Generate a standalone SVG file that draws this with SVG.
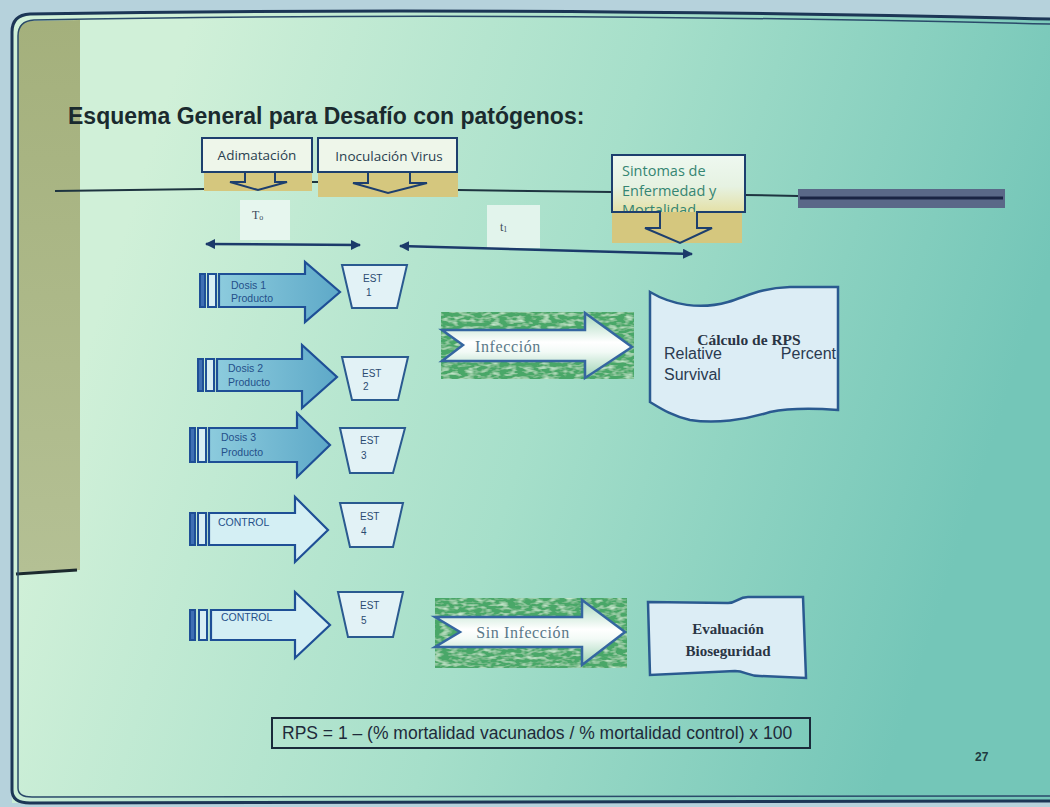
<svg xmlns="http://www.w3.org/2000/svg" width="1050" height="807" viewBox="0 0 1050 807">
<defs>
  <linearGradient id="slideBg" gradientUnits="userSpaceOnUse" x1="150" y1="150" x2="1000" y2="420">
    <stop offset="0" stop-color="#d0f0d8"/>
    <stop offset="0.5" stop-color="#a6dfca"/>
    <stop offset="1" stop-color="#74c6b8"/>
  </linearGradient>
  <linearGradient id="oliveBar" x1="0" y1="0" x2="0" y2="1">
    <stop offset="0" stop-color="#a4b07c"/>
    <stop offset="1" stop-color="#b4c094"/>
  </linearGradient>
  <linearGradient id="doseFill" x1="0" y1="0" x2="1" y2="0">
    <stop offset="0" stop-color="#8ccbdd"/>
    <stop offset="1" stop-color="#5ea9c8"/>
  </linearGradient>
  <linearGradient id="sintFill" x1="0" y1="0" x2="0" y2="1">
    <stop offset="0" stop-color="#eef8f0"/>
    <stop offset="0.55" stop-color="#e6f2e2"/>
    <stop offset="1" stop-color="#e4e0a6"/>
  </linearGradient>
  <linearGradient id="ribbon" x1="0" y1="0" x2="0" y2="1">
    <stop offset="0" stop-color="#a6d8bc"/>
    <stop offset="0.45" stop-color="#ffffff"/>
    <stop offset="0.6" stop-color="#f2faf6"/>
    <stop offset="1" stop-color="#9cd2b2"/>
  </linearGradient>
  <filter id="moss" x="0" y="0" width="1" height="1">
    <feTurbulence type="fractalNoise" baseFrequency="0.12 0.3" numOctaves="2" seed="7" result="noise"/>
    <feColorMatrix in="noise" type="matrix" values="0 0 0 0 0.55  0 0 0 0 0.8  0 0 0 0 0.6  0 0 0 2.4 -1.05" result="dots"/>
    <feComposite in="dots" in2="SourceGraphic" operator="in" result="clipped"/>
    <feMerge><feMergeNode in="SourceGraphic"/><feMergeNode in="clipped"/></feMerge>
  </filter>
  <marker id="ah" viewBox="0 0 10 10" refX="9" refY="5" markerWidth="4" markerHeight="4" orient="auto-start-reverse">
    <path d="M0,0 L10,5 L0,10 z" fill="#1c3a6a"/>
  </marker>
  <style>
    .box { fill: #eef6ea; stroke: #1d3f6e; stroke-width: 2; }
    .outline { fill: none; stroke: #1d3f6e; stroke-width: 2; }
    .olive { fill: #d5c77e; }
    .lbl { font-family: "Open Sans", "Liberation Sans", sans-serif; font-size: 13.5px; fill: #2a4050; }
    .sint { font-family: "Open Sans", "Liberation Sans", sans-serif; font-size: 14.5px; fill: #358572; }
    .tl { stroke: #1e3440; stroke-width: 2; fill: none; }
    .dose { stroke: #1e4f96; stroke-width: 2.2; }
    .bar { fill: #d8eef4; stroke: #1e4f96; stroke-width: 2; }
    .bar.dark { fill: #3f70b4; }
    .dtext { font-family: "Liberation Sans", sans-serif; font-size: 10.5px; fill: #24508a; }
    .est { fill: #e2f2f6; stroke: #2a5a90; stroke-width: 2; }
    .etext { font-family: "Liberation Sans", sans-serif; font-size: 10px; fill: #2a4a70; }
    .moss { fill: #49a767; }
    .rib { fill: url(#ribbon); stroke: #3566a0; stroke-width: 2.5; }
    .rtext { font-family: "Liberation Serif", serif; font-size: 16px; fill: #5a7888; letter-spacing: 0.6px; }
    .wave { fill: #dcedf5; stroke: #2a5a90; stroke-width: 2.5; }
    .bserif { font-family: "Liberation Serif", serif; font-weight: bold; fill: #2a3444; }
    .sans { font-family: "Liberation Sans", sans-serif; fill: #2a3a50; }
    .conn { stroke: #1c3a6a; stroke-width: 2.5; fill: none; }
  </style>
</defs>

<!-- backdrop and slide -->
<rect x="0" y="0" width="1050" height="807" fill="#b6d2dc"/>
<path d="M12,806 L12,32 Q12,15 30,15 Q500,6 1050,19 L1050,802 L12,803 Z" fill="url(#slideBg)"/>
<path d="M18,572 L18,34 Q18,21 32,21 L80,20 L80,570 Z" fill="url(#oliveBar)"/>
<path d="M16,574 L77,570" stroke="#1c2a2e" stroke-width="3" fill="none"/>

<!-- slide frame -->
<g id="frame" fill="none">
  <path d="M1050,19 Q500,6 30,14 Q12,15 12,32 L12,790 Q12,803 30,803 L1050,801" stroke="#1c3656" stroke-width="3"/>
  <path d="M1050,24 Q500,11 34,20 Q18,21 18,36 L18,788 Q18,797 32,797 L1050,796" stroke="#2a4a6a" stroke-width="1.5"/>
</g>

<text id="title" x="68" y="124" font-family="Liberation Sans, Arial, sans-serif" font-weight="bold" font-size="23" fill="#1a2a2e">Esquema General para Desafío con patógenos:</text>

<!-- timeline -->
<g id="timeline">
  <path class="tl" d="M55,191 L204,189"/>
  <path class="tl" d="M312,182 L318,182"/>
  <path class="tl" d="M458,190 L612,192"/>
  <path class="tl" d="M745,195 L798,196"/>
  <rect x="798" y="189" width="207" height="19" fill="#5a6888"/>
  <path d="M800,198 L1003,198" stroke="#1a2444" stroke-width="3"/>
</g>

<g id="adimatacion">
  <rect class="olive" x="204" y="172" width="108" height="19"/>
  <rect class="box" x="202" y="138" width="110" height="34"/>
  <path class="outline" d="M245,172 V182 H230 L258,190 L287,182 H275 V172"/>
  <text class="lbl" x="257" y="160" text-anchor="middle">Adimatación</text>
</g>

<g id="inoculacion">
  <rect class="olive" x="318" y="172" width="140" height="25"/>
  <rect class="box" x="318" y="138" width="139" height="34"/>
  <path class="outline" d="M368,172 V183 H353 L388,193 L427,183 H410 V172"/>
  <text class="lbl" x="389" y="161" text-anchor="middle">Inoculación Virus</text>
</g>

<g id="sintomas">
  <rect x="612" y="155" width="133" height="57" fill="url(#sintFill)"/>
  <text class="sint" x="622" y="176">Sintomas de</text>
  <text class="sint" x="622" y="196">Enfermedad y</text>
  <text class="sint" x="622" y="215">Mortalidad</text>
  <rect class="olive" x="612" y="212" width="130" height="31"/>
  <path class="outline" d="M660,212 H612 V155 H745 V212 H697 V228 H712 L680,243 L645,228 H660 Z"/>
</g>

<g id="t0">
  <rect x="240" y="200" width="50" height="40" fill="#e6f6ee"/>
  <text x="252" y="219" font-family="Liberation Serif, serif" font-size="12" fill="#3a4a5a">T<tspan font-size="8" dy="1">o</tspan></text>
</g>
<g id="t1">
  <rect x="487" y="205" width="53" height="43" fill="#e2f4ec"/>
  <text x="500" y="231" font-family="Liberation Serif, serif" font-size="12" fill="#3a4a5a">t<tspan font-size="8" dy="1">1</tspan></text>
</g>

<!-- interval arrows -->
<g id="connectors">
  <line class="conn" x1="206" y1="244" x2="360" y2="245" marker-start="url(#ah)" marker-end="url(#ah)"/>
  <line class="conn" x1="400" y1="246" x2="692" y2="254" marker-start="url(#ah)" marker-end="url(#ah)"/>
</g>

<!-- treatment groups -->
<g id="dosis1">
  <rect class="bar dark" x="200" y="274" width="5" height="33"/>
  <rect class="bar" x="208" y="274" width="8" height="33"/>
  <path class="dose" fill="url(#doseFill)" d="M219,274 H305 V262 L340,292 L305,322 V307 H219 Z"/>
  <text class="dtext" x="231" y="289">Dosis 1</text>
  <text class="dtext" x="231" y="302">Producto</text>
</g>
<g id="dosis2">
  <rect class="bar dark" x="198" y="359" width="5" height="32"/>
  <rect class="bar" x="206" y="359" width="8" height="32"/>
  <path class="dose" fill="url(#doseFill)" d="M217,359 H302 V345 L337,377 L302,408 V391 H217 Z"/>
  <text class="dtext" x="228" y="372">Dosis  2</text>
  <text class="dtext" x="228" y="386">Producto</text>
</g>
<g id="dosis3">
  <rect class="bar dark" x="190" y="428" width="5" height="34"/>
  <rect class="bar" x="198" y="428" width="8" height="34"/>
  <path class="dose" fill="url(#doseFill)" d="M209,428 H297 V413 L330,445 L297,477 V462 H209 Z"/>
  <text class="dtext" x="221" y="441">Dosis 3</text>
  <text class="dtext" x="221" y="456">Producto</text>
</g>
<g id="control4">
  <rect class="bar dark" x="190" y="513" width="5" height="32"/>
  <rect class="bar" x="198" y="513" width="8" height="32"/>
  <path class="dose" fill="#d4eff4" d="M209,513 H295 V497 L328,530 L295,562 V545 H209 Z"/>
  <text class="dtext" x="218" y="526">CONTROL</text>
</g>
<g id="control5">
  <rect class="bar dark" x="190" y="610" width="5" height="30"/>
  <rect class="bar" x="199" y="610" width="8" height="30"/>
  <path class="dose" fill="#d4eff4" d="M211,610 H295 V592 L330,625 L295,658 V640 H211 Z"/>
  <text class="dtext" x="221" y="621">CONTROL</text>
</g>

<!-- tanks -->
<g id="est1">
  <polygon class="est" points="342,265 407,265 397,308 352,308"/>
  <text class="etext" x="363" y="282">EST</text>
  <text class="etext" x="366" y="296">1</text>
</g>
<g id="est2">
  <polygon class="est" points="342,357 408,357 398,400 352,400"/>
  <text class="etext" x="362" y="377">EST</text>
  <text class="etext" x="363" y="390">2</text>
</g>
<g id="est3">
  <polygon class="est" points="340,428 405,428 393,473 350,473"/>
  <text class="etext" x="360" y="444">EST</text>
  <text class="etext" x="361" y="459">3</text>
</g>
<g id="est4">
  <polygon class="est" points="340,503 403,503 393,547 350,547"/>
  <text class="etext" x="360" y="520">EST</text>
  <text class="etext" x="361" y="535">4</text>
</g>
<g id="est5">
  <polygon class="est" points="338,592 403,592 393,637 348,637"/>
  <text class="etext" x="360" y="609">EST</text>
  <text class="etext" x="361" y="624">5</text>
</g>

<!-- challenge ribbons -->
<g id="infeccion">
  <rect class="moss" x="441" y="312" width="193" height="67" filter="url(#moss)"/>
  <path class="rib" d="M442,330 H585 V313 L632,347 L585,378 V361 H442 L463,345 Z"/>
  <text class="rtext" x="508" y="352" text-anchor="middle">Infección</text>
</g>
<g id="sin-infeccion">
  <rect class="moss" x="435" y="598" width="192" height="70" filter="url(#moss)"/>
  <path class="rib" d="M435,617 H582 V600 L625,632 L582,665 V647 H435 L460,632 Z"/>
  <text class="rtext" x="523" y="638" text-anchor="middle">Sin Infección</text>
</g>

<!-- result documents -->
<g id="calculo-rps">
  <path class="wave" d="M650,292 C672,305 700,310 728,302 C748,296 760,288 790,287 L838,287 L838,410 C810,408 790,408 770,412 C745,420 715,424 690,420 C672,416 660,408 650,402 Z"/>
  <text class="bserif" x="749" y="345" font-size="15.5" text-anchor="middle">Cálculo de RPS</text>
  <text class="sans" x="664" y="359" font-size="16">Relative</text>
  <text class="sans" x="836" y="359" font-size="16" text-anchor="end">Percent</text>
  <text class="sans" x="664" y="380" font-size="16">Survival</text>
</g>
<g id="evaluacion">
  <path class="wave" d="M648,602 L728,603 C737,603 738,597 748,597 L803,597 L806,678 L760,676 C748,676 745,671 735,671 L650,675 Z"/>
  <text class="bserif" x="728" y="634" font-size="15" text-anchor="middle">Evaluación</text>
  <text class="bserif" x="728" y="656" font-size="15" text-anchor="middle">Bioseguridad</text>
</g>

<g id="formula">
  <rect x="272" y="718" width="538" height="30" fill="none" stroke="#1a2a3a" stroke-width="2"/>
  <text x="282" y="739" font-family="Liberation Sans, Arial, sans-serif" font-size="17.5" fill="#1e2a3a">RPS = 1 – (% mortalidad vacunados / % mortalidad control) x 100</text>
</g>

<text id="page-number" x="975" y="761" font-family="Liberation Sans, Arial, sans-serif" font-weight="bold" font-size="12" fill="#1e3a40">27</text>
</svg>
